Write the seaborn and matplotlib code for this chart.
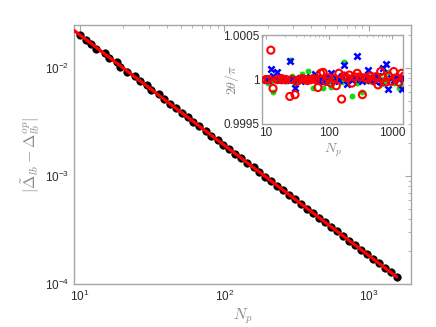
import numpy as np
import pandas as pd
import matplotlib
matplotlib.use("Agg")
import matplotlib.pyplot as plt
import matplotlib.ticker as mticker
import seaborn as sns

# ---------------- data ----------------
n_p = [10, 11, 12, 13, 15, 16, 18, 19, 21, 24, 26, 29, 31, 35, 38, 42, 46, 51,
       56, 61, 67, 74, 81, 90, 98, 108, 119, 131, 144, 159, 174, 192, 211, 232,
       255, 281, 309, 340, 374, 411, 453, 498, 548, 602, 663, 729, 802, 882,
       970, 1067, 1174, 1291, 1420, 1562]

delta_err = [0.02020, 0.018325, 0.016625, 0.015082, 0.013683, 0.012413, 0.011261,
             0.010216, 0.009268, 0.008408, 0.007628, 0.006920, 0.006278, 0.005695,
             0.005167, 0.004687, 0.004252, 0.003858, 0.003500, 0.003175, 0.002880,
             0.002613, 0.002371, 0.002151, 0.001951, 0.001770, 0.001606, 0.001457,
             0.001322, 0.001199, 0.001088, 0.000987, 0.000895, 0.000812, 0.000737,
             0.000668, 0.000606, 0.000550, 0.000499, 0.000453, 0.000411, 0.000373,
             0.000338, 0.000307, 0.000278, 0.000252, 0.000229, 0.000208, 0.000188,
             0.000171, 0.000155, 0.000141, 0.000128, 0.000116]

fit_x = [9.1, 1562]
fit_y = [0.02223, 0.000116]

theta_red = [1.0, 1.0, 1.00033, 0.99990, 1.0, 1.0, 1.00001, 1.0, 1.0, 0.99981,
             1.0, 0.99983, 0.99998, 1.0, 1.00001, 1.0, 0.99999, 1.0, 1.00001, 1.0,
             0.99991, 1.00007, 1.00008, 0.99998, 1.00002, 0.99996, 1.00001, 0.99993,
             1.00007, 0.99978, 1.00004, 1.00002, 1.00005, 0.99996, 1.00003, 1.00007,
             1.00003, 0.99983, 1.00002, 1.00001, 1.00004, 0.99999, 1.00003, 0.99994,
             1.00009, 1.00002, 0.99997, 1.00004, 0.99998, 1.00009, 1.00001, 0.99997,
             1.00007, 1.00004]

theta_blue = [1.0, 1.0, 1.00012, 1.00004, 1.00008, 1.0, 1.00001, 0.99999, 1.0,
              1.00021, 1.00001, 0.99990, 0.99999, 1.00002, 1.0, 0.99998, 1.00001,
              1.00003, 1.0, 1.00006, 0.99999, 1.00002, 0.99997, 1.00001, 1.00003,
              1.00007, 0.99998, 1.00002, 0.99999, 1.00004, 1.00016, 0.99995, 1.00002,
              0.99999, 1.00003, 1.00027, 1.00001, 0.99998, 1.00003, 1.00011, 0.99999,
              1.00002, 0.99998, 1.00004, 0.99997, 1.00013, 1.00017, 0.99989, 1.00002,
              0.99999, 1.00003, 1.00001, 0.99989, 1.00002]

theta_green = [1.0, 0.99996, 0.99997, 0.99986, 1.00002, 0.99999, 1.00001, 1.0,
               0.99998, 1.00022, 1.00004, 0.99995, 1.00002, 0.99999, 1.00006, 0.99998,
               1.0001, 1.00001, 0.99991, 1.00002, 0.99998, 1.00003, 0.99991, 1.00004,
               0.99997, 0.99992, 1.00002, 0.99999, 1.00003, 0.99997, 1.0002, 0.99998,
               1.00002, 0.99981, 1.00001, 0.99996, 1.00003, 0.99986, 1.00001, 0.99998,
               1.00003, 0.99997, 1.00002, 1.00005, 0.99995, 1.00001, 0.99997, 1.00009,
               1.00002, 0.99996, 1.00003, 0.99991, 0.99995, 0.99993]

inset_xticks = [10, 100, 1000]
inset_xticklabels = ["10", "100", "1000"]
inset_yticks = [0.9995, 1.0, 1.0005]
inset_yticklabels = ["0.9995", "1", "1.0005"]

# ---------------- style ----------------
sns.set_theme(style="white")
plt.rcParams["font.family"] = ["Liberation Sans", "DejaVu Sans"]

SPINE = "#a6a6a6"
TICKLBL = "#2b2b2b"
LABEL = "#8a8a8a"

fig = plt.figure(figsize=(4.36, 3.27), dpi=100)
ax = fig.add_axes([0.1697, 0.1315, 0.773, 0.792])

df_main = pd.DataFrame({"N": n_p, "err": delta_err})
df_fit = pd.DataFrame({"N": fit_x, "err": fit_y})

sns.scatterplot(data=df_main, x="N", y="err", ax=ax, color="black", s=28,
                edgecolor="black", linewidth=0.6, zorder=2, legend=False)
sns.lineplot(data=df_fit, x="N", y="err", ax=ax, color="red", lw=2.3,
             zorder=3, legend=False)

ax.set_xscale("log")
ax.set_yscale("log")
ax.set_xlim(9.085, 1957)
ax.set_ylim(1e-4, 0.025)

for sp in ax.spines.values():
    sp.set_color(SPINE)
    sp.set_linewidth(1.0)
ax.tick_params(which="both", direction="in", top=True, right=True,
               color=SPINE, labelcolor=TICKLBL, labelsize=8.5)
ax.tick_params(which="major", length=4, width=0.8)
ax.tick_params(which="minor", length=2, width=0.6)
ax.xaxis.set_major_locator(mticker.LogLocator(base=10, numticks=10))
ax.xaxis.set_minor_locator(mticker.LogLocator(base=10, subs=np.arange(2, 10), numticks=10))
ax.yaxis.set_minor_locator(mticker.LogLocator(base=10, subs=np.arange(2, 10), numticks=10))
ax.xaxis.set_minor_formatter(mticker.NullFormatter())
ax.yaxis.set_minor_formatter(mticker.NullFormatter())

ax.set_xlabel(r"$N_p$", color=LABEL, fontsize=11, math_fontfamily="cm", labelpad=2)
ax.set_ylabel(r"$|\tilde{\Delta}_{lb}-\Delta_{lb}^{op}|$", color=LABEL,
              fontsize=11.5, math_fontfamily="cm", labelpad=2)

# ---------------- inset ----------------
axi = fig.add_axes([0.601, 0.6208, 0.3234, 0.272])
df_in = pd.DataFrame({"N": n_p, "red": theta_red, "blue": theta_blue,
                      "green": theta_green})

sns.scatterplot(data=df_in, x="N", y="green", ax=axi, color="#11dd11", s=18,
                linewidth=0, marker="o", zorder=2, legend=False)
sns.scatterplot(data=df_in, x="N", y="blue", ax=axi, color="#0000ff", s=20,
                marker="x", linewidth=1.8, zorder=3, legend=False)
axi.scatter(df_in["N"], df_in["red"], s=26, facecolors="none",
            edgecolors="#ff0000", linewidths=1.5, zorder=4)

axi.set_xscale("log")
axi.set_xlim(8.7, 1500)
axi.set_ylim(0.9995, 1.0005)
axi.set_xticks(inset_xticks)
axi.set_xticklabels(inset_xticklabels)
axi.set_yticks(inset_yticks)
axi.set_yticklabels(inset_yticklabels)
axi.xaxis.set_minor_locator(mticker.LogLocator(base=10, subs=np.arange(2, 10), numticks=10))
axi.xaxis.set_minor_formatter(mticker.NullFormatter())
for sp in axi.spines.values():
    sp.set_color(SPINE)
    sp.set_linewidth(1.0)
axi.tick_params(which="both", direction="in", top=True, right=True,
                color=SPINE, labelcolor=TICKLBL, labelsize=8.5, pad=2)
axi.tick_params(which="major", length=3, width=0.8)
axi.tick_params(which="minor", length=1.5, width=0.6)
axi.set_xlabel(r"$N_p$", color=LABEL, fontsize=10, math_fontfamily="cm", labelpad=2)
axi.set_ylabel(r"$2\theta/\pi$", color=LABEL, fontsize=10, math_fontfamily="cm", labelpad=-13)

fig.savefig("out.png", dpi=100)
